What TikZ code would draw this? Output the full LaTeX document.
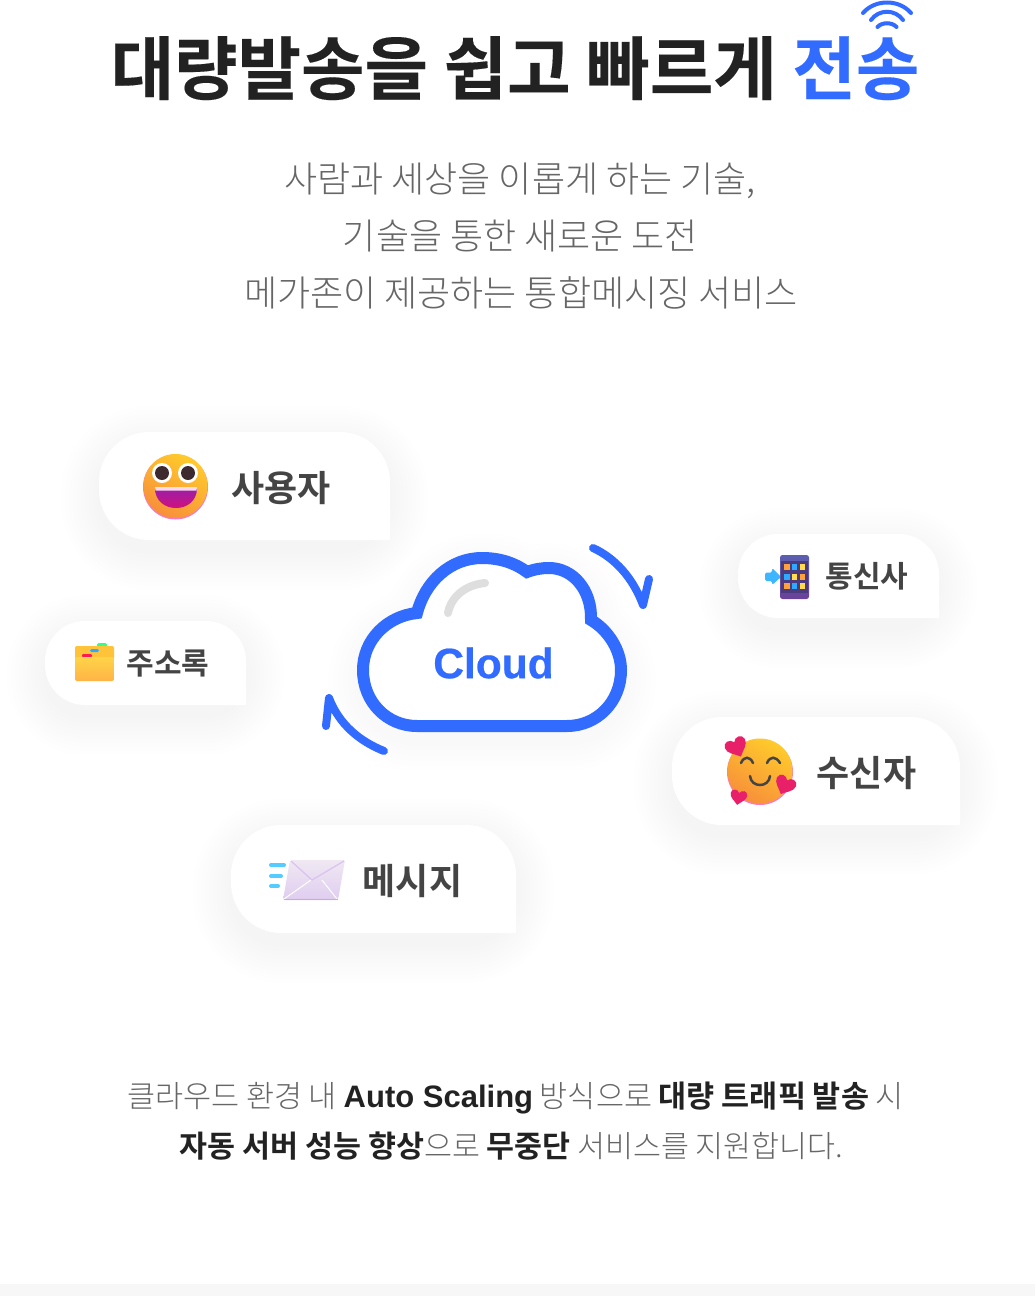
\documentclass[tikz,border=0pt]{standalone}
\usepackage{fontspec}
\usetikzlibrary{shadings,calc}
\newfontfamily\krlight{Noto Sans CJK KR Light}
\newfontfamily\krbold{Noto Sans CJK KR Bold}
\newfontfamily\krheavy[FakeBold=0.2]{Noto Sans CJK KR Bold}
\newfontfamily\latbold[FakeBold=0.5]{Liberation Sans Bold}
\newfontfamily\latfoot{Liberation Sans Bold}
\definecolor{brand}{HTML}{316BFF}
\definecolor{inkdark}{HTML}{222222}
\definecolor{inkmid}{HTML}{444444}
\definecolor{inkgray}{HTML}{666666}
\definecolor{heartc}{HTML}{E8206A}
\definecolor{faceT}{HTML}{FFCB2B}
\definecolor{faceB}{HTML}{F78F3A}
\definecolor{faceP}{HTML}{F57CC0}
\definecolor{mouthT}{HTML}{9A1FA8}
\definecolor{mouthB}{HTML}{D0107E}
\definecolor{pupil}{HTML}{3D2A2E}
\definecolor{foldT}{HTML}{FFD447}
\definecolor{foldB}{HTML}{FFB347}
\definecolor{tabT}{HTML}{5B5FB0}
\definecolor{tabB}{HTML}{6A4198}
\definecolor{tabS}{HTML}{4C3A7E}
\definecolor{cellO}{HTML}{FFA23E}
\definecolor{cellB}{HTML}{2EA9FF}
\definecolor{cellY}{HTML}{FFDB4D}
\definecolor{skyb}{HTML}{3DB5FF}
\definecolor{speed}{HTML}{55CCFF}
\definecolor{envT}{HTML}{F0E8F2}
\definecolor{envB}{HTML}{DFCDF0}
\definecolor{envE}{HTML}{C9A8EA}
\newcommand{\fs}[1]{\fontsize{#1pt}{#1pt}\selectfont}
\newcommand{\pillpath}[5]{(#3,#4) [rounded corners=#5 pt] -- (#3,#2) -- (#1,#2) -- (#1,#4) [sharp corners] -- cycle}
\newcommand{\pill}[5]{%
  \foreach \d in {38,34,...,2}{%
    \pgfmathsetmacro{\xa}{#1-\d}\pgfmathsetmacro{\ya}{#2+12-\d}\pgfmathsetmacro{\xb}{#3+\d}\pgfmathsetmacro{\yb}{#4+12+\d}\pgfmathsetmacro{\rr}{#5+\d}%
    \fill[black,opacity=0.0045,rounded corners=\rr pt] (\xa,\ya) rectangle (\xb,\yb);%
  }%
  \fill[white] \pillpath{#1}{#2}{#3}{#4}{#5};%
}
\newcommand{\heart}[4]{% x y size rot
  \begin{scope}[shift={(#1,#2)},rotate=#4,scale=#3]
    \fill[heartc] (0,1) .. controls (-.4,.55) and (-1.1,.2) .. (-1.05,-.35) .. controls (-1,-.95) and (-.25,-1) .. (0,-.5) .. controls (.25,-1) and (1,-.95) .. (1.05,-.35) .. controls (1.1,.2) and (.4,.55) .. (0,1) -- cycle;
  \end{scope}}
\tikzset{
  pilltext/.style={text=inkmid,inner sep=0pt,anchor=center},
  wave/.style={draw=brand,line width=4pt,line cap=round},
  turn/.style={draw=brand,line width=8pt,line cap=round,line join=round},
  linetext/.style={inner sep=0pt,anchor=base},
  faceshade/.style={top color=faceT,bottom color=faceB,shading angle=-30},
}
\begin{document}
\begin{tikzpicture}[x=1pt,y=-1pt]
\useasboundingbox (0,0) rectangle (1035,1296);
\fill[white] (0,0) rectangle (1035,1296);
\fill[black!3] (0,1284) rectangle (1035,1296);
% title
\node[linetext] (title) at (515,94) {\krheavy\fs{69}\textcolor{inkdark}{대량발송을 쉽고 빠르게} \textcolor{brand}{전송}};
\draw[wave] (863,13) .. controls (875,-1) and (899,-1) .. (911,13);
\draw[wave] (871,20) .. controls (879,9) and (895,9) .. (903,20);
\draw[wave] (877.5,27) .. controls (882,22) and (892,22) .. (896.5,27);
% subtitle
\node[linetext,text=inkgray] (sub1) at (520,192) {\krlight\fs{36}사람과 세상을 이롭게 하는 기술,};
\node[linetext,text=inkgray] (sub2) at (520.5,249) {\krlight\fs{36}기술을 통한 새로운 도전};
\node[linetext,text=inkgray] (sub3) at (521,306) {\krlight\fs{36}메가존이 제공하는 통합메시징 서비스};
% pills
\pill{99}{432}{390}{540}{50}
\pill{45}{621}{246}{705}{40}
\pill{738}{534}{939}{618}{40}
\pill{672}{717}{960}{825}{50}
\pill{231}{825}{516}{933}{50}
\node[pilltext] (lbluser) at (281,488) {\krbold\fs{36}사용자};
\node[pilltext] (lbladdr) at (168,664) {\krbold\fs{30}주소록};
\node[pilltext] (lbltel) at (867,576) {\krbold\fs{30}통신사};
\node[pilltext] (lblrecv) at (866.5,773) {\krbold\fs{36}수신자};
\node[pilltext] (lblmsg) at (412.5,881) {\krbold\fs{36}메시지};
% grin emoji
\fill[faceP] (175.5,487) circle (32.5);
\shade[faceshade] (175.5,486) circle (32);
\fill[white] (162,473) circle (10) (188,473) circle (10);
\fill[pupil] (162,473) circle (7) (188,473) circle (7);
\shade[top color=mouthT,bottom color=mouthB] (155,488) -- (197,488) .. controls (197,501) and (187,508) .. (176,508) .. controls (165,508) and (155,501) .. (155,488) -- cycle;
\fill[white!85!magenta] (155,487) -- (197,487) -- (196.5,490.5) -- (155.5,490.5) -- cycle;
% folder emoji
\fill[green!60!cyan!80,rounded corners=1.5pt] (97,643) rectangle (107,649);
\fill[foldT!80!orange,rounded corners=2pt] (75,646) rectangle (114,660);
\fill[cellB,rounded corners=1.5pt] (90,649) rectangle (99,652);
\fill[red!75!magenta!90,rounded corners=1pt] (82,654) rectangle (92,657);
\shade[top color=foldT,bottom color=foldB,rounded corners=2pt] (75,657) rectangle (114,681);
% tablet emoji
\shade[top color=tabT,bottom color=tabB,rounded corners=2.5pt] (780,555) rectangle (809,599);
\fill[tabS] (781,561) rectangle (808,593);
\foreach \xx/\yy/\cc in {787/567/cellO,794.3/567/cellB,802.7/567/cellY,787/577/cellB,794.3/577/cellY,802.7/577/cellO,787/586/cellO,794.3/586/cellB,802.7/586/cellY}{
  \fill[\cc] (\xx-2.7,\yy-2.7) rectangle (\xx+2.7,\yy+2.7);
}
\fill[skyb,rounded corners=1.5pt] (765,572.5) -- (772,572.5) -- (772,568) -- (781,577) -- (772,585) -- (772,581) -- (765,581) -- cycle;
% smiling hearts emoji
\fill[faceP] (760,772) circle (33);
\shade[faceshade] (760,771) circle (32.5);
\draw[inkmid,line width=2.5pt,line cap=round] (741,763) .. controls (744,756) and (750,756) .. (753,763);
\draw[inkmid,line width=2.5pt,line cap=round] (767,763) .. controls (770,756) and (776,756) .. (780,763);
\draw[inkmid,line width=2.5pt,line cap=round] (750,776) .. controls (751,788) and (769,788) .. (770,776);
\heart{736.5}{747}{10.5}{25}
\heart{785}{785}{10}{-25}
\heart{738.5}{797}{8}{-10}
% envelope emoji
\draw[speed,line width=4pt,line cap=round] (271,865) -- (284,865) (271,876) -- (281,876) (271,886) -- (278,886);
\shade[top color=envT,bottom color=envB,rounded corners=2pt] (290,860) -- (345,860) -- (338,900) -- (283,900) -- cycle;
\draw[white,line width=1pt] (284,899) -- (311,880);
\draw[white,line width=1pt] (322,880) -- (337,899);
\draw[envE!70,line width=1.2pt] (291,861) -- (312,880) -- (344,861);
\draw[envE,line width=1.2pt] (284,899.5) -- (338,899.5);
% cloud
\def\cloudoutline{(417,613) .. controls (425,582) and (450,558) .. (482,558) .. controls (500,558) and (515,563) .. (527,572) .. controls (535,569) and (542,568) .. (549,568) .. controls (573,568) and (592,590) .. (591,620) .. controls (608,630) and (621,650) .. (621,670) .. controls (621,702) and (597,726) .. (567,726) -- (417,726) .. controls (387,726) and (363,702) .. (363,670) .. controls (363,640) and (387,616) .. (417,613) -- cycle}
\foreach \w in {70,60,...,20}{
  \draw[black,opacity=0.004,line width=\w pt,line join=round,yshift=-10pt] \cloudoutline;
}
\fill[white] \cloudoutline;
\draw[brand,line width=12pt,line join=miter] \cloudoutline;
\draw[black!13,line width=8pt,line cap=round] (448,613) .. controls (451,597) and (465,585) .. (485,583);
\node[inner sep=0pt,text=brand,anchor=center] (cloudlbl) at (493.5,663) {\latbold\fs{42.5}Cloud};
% rotation arrows
\draw[turn] (593,548) .. controls (615,558) and (633,578) .. (643,605) -- (649,579);
\draw[turn] (384,751) .. controls (359,741) and (339,724) .. (329,698) -- (326,726);
% bottom text
\node[linetext,text=inkgray] (foot1) at (515.5,1107) {\krlight\fs{30.5}클라우드 환경 내 {\latfoot\fs{31}\textcolor{inkdark}{Auto Scaling}} 방식으로 {\krbold\textcolor{inkdark}{대량 트래픽 발송}} 시};
\node[linetext,text=inkgray] (foot2) at (511.5,1157) {\krlight\fs{30.4}{\krbold\textcolor{inkdark}{자동 서버 성능 향상}}으로 {\krbold\textcolor{inkdark}{무중단}} 서비스를 지원합니다.};
\end{tikzpicture}
\end{document}
